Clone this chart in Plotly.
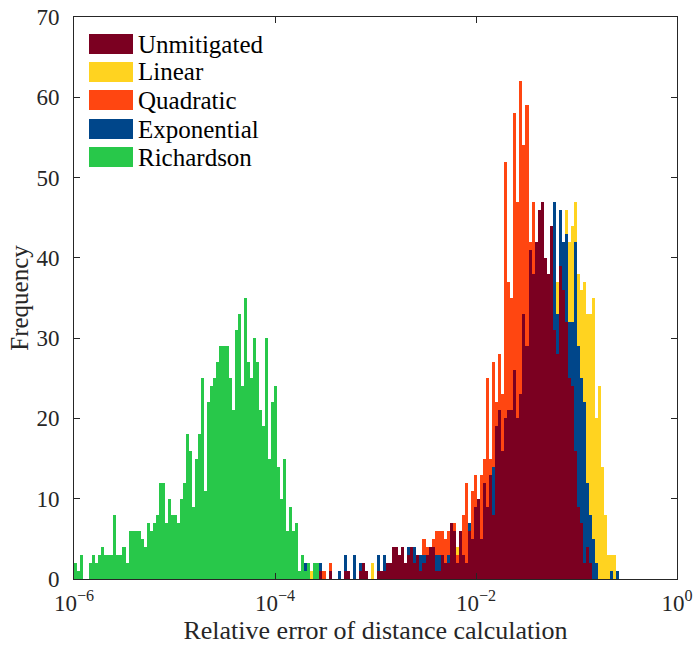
import numpy as np
import plotly.graph_objects as go

# ---------------- data (histogram counts on 199 log-spaced bins, 1e-6 .. 1) ----------------
n_bins = 199
log_min, log_max = -6, 0

richardson_start = 0
richardson_counts = [2, 1, 3, 0, 0, 2, 3, 2, 3, 4,
                     3, 3, 3, 8, 3, 3, 4, 2, 6, 6,
                     6, 6, 5, 4, 7, 6, 7, 8, 12, 12,
                     7, 10, 8, 8, 7, 10, 12, 18, 16, 9,
                     15, 18, 25, 11, 22, 24, 25, 27, 29, 29,
                     29, 25, 21, 31, 33, 24, 35, 27, 25, 30,
                     27, 21, 19, 30, 15, 22, 24, 14, 10, 15,
                     6, 9, 6, 7, 1, 3, 1, 2, 0, 2,
                     2]

unmitigated_start = 80
unmitigated_counts = [0, 1, 0, 0, 1, 0, 0, 0, 0, 1,
                      1, 0, 0, 0, 1, 2, 1, 0, 0, 0,
                      1, 1, 1, 2, 2, 4, 4, 3, 4, 2,
                      3, 4, 2, 3, 1, 2, 3, 4, 4, 1,
                      1, 3, 2, 2, 7, 6, 2, 6, 3, 2,
                      6, 5, 9, 10, 5, 12, 9, 13, 8, 19,
                      21, 16, 20, 21, 21, 26, 20, 23, 33, 29,
                      41, 38, 42, 46, 47, 40, 38, 44, 31, 28,
                      39, 36, 32, 25, 24, 16, 9, 7, 2, 4,
                      2]

exponential_start = 76
exponential_counts = [2, 0, 0, 0, 0, 2, 0, 0, 1, 0,
                      0, 1, 0, 3, 0, 0, 3, 0, 2, 0,
                      0, 0, 0, 0, 3, 0, 3, 0, 0, 0,
                      0, 0, 0, 0, 4, 0, 4, 3, 3, 3,
                      0, 0, 0, 3, 3, 0, 0, 3, 3, 4,
                      1, 4, 2, 1, 7, 3, 6, 7, 4, 9,
                      7, 10, 14, 14, 16, 13, 15, 17, 18, 20,
                      18, 20, 25, 26, 30, 32, 34, 38, 40, 37,
                      36, 40, 47, 33, 46, 42, 43, 32, 32, 42,
                      29, 25, 22, 12, 8, 5, 2, 0, 0, 0,
                      0, 1, 0, 1]

quadratic_start = 82
quadratic_counts = [1, 0, 2, 0, 0, 0, 0, 0, 1, 0,
                    0, 0, 0, 0, 1, 0, 0, 0, 0, 0,
                    0, 0, 0, 0, 0, 0, 0, 0, 3, 0,
                    0, 0, 0, 5, 4, 3, 5, 6, 6, 6,
                    5, 6, 7, 7, 3, 5, 8, 12, 5, 11,
                    13, 9, 13, 15, 25, 15, 27, 22, 28, 23,
                    52, 37, 35, 58, 47, 62, 54, 59, 42, 47,
                    30, 25, 20, 15, 10, 6, 3]

linear_start = 78
linear_counts = [1, 0, 0, 0, 0, 0, 0, 0, 0, 0,
                 0, 0, 0, 0, 0, 0, 0, 0, 0, 0,
                 2, 0, 0, 0, 0, 0, 0, 0, 0, 0,
                 0, 0, 0, 0, 0, 0, 0, 0, 0, 0,
                 0, 0, 0, 0, 0, 0, 0, 0, 4, 3,
                 4, 1, 5, 4, 6, 7, 5, 8, 9, 10,
                 12, 14, 15, 16, 18, 19, 20, 22, 20, 23,
                 25, 26, 28, 30, 32, 35, 36, 34, 35, 38,
                 45, 37, 40, 40, 46, 42, 44, 47, 38, 36,
                 37, 33, 33, 35, 20, 24, 14, 8, 3, 3,
                 3]

series_names = ["Unmitigated", "Linear", "Quadratic", "Exponential", "Richardson"]
series_colors = {"Unmitigated": "#7b0021", "Linear": "#ffd320", "Quadratic": "#ff4611",
                 "Exponential": "#00468a", "Richardson": "#28c84a"}
series_data = {"Unmitigated": (unmitigated_start, unmitigated_counts),
               "Linear": (linear_start, linear_counts),
               "Quadratic": (quadratic_start, quadratic_counts),
               "Exponential": (exponential_start, exponential_counts),
               "Richardson": (richardson_start, richardson_counts)}
draw_order = ["Linear", "Quadratic", "Exponential", "Unmitigated", "Richardson"]

x_tick_vals = [-6, -4, -2, 0]
x_tick_text = ["10<sup>\u22126</sup>", "10<sup>\u22124</sup>", "10<sup>\u22122</sup>", "10<sup>0</sup>"]
y_tick_vals = [0, 10, 20, 30, 40, 50, 60, 70]

# ---------------- figure ----------------
edges = np.linspace(log_min, log_max, n_bins + 1)
centers = (edges[:-1] + edges[1:]) / 2
bin_w = edges[1] - edges[0]


def full_counts(start, counts):
    arr = np.zeros(n_bins)
    arr[start:start + len(counts)] = counts
    return arr


FONT = "Liberation Serif"
TXT = "#262626"
W, H = 697, 648
L, R, T, B = 74, 20, 17, 69
pw, ph = W - L - R, H - T - B

fig = go.Figure()
for name in draw_order:
    start, counts = series_data[name]
    fig.add_trace(go.Bar(x=centers, y=full_counts(start, counts), width=bin_w, name=name,
                         marker=dict(color=series_colors[name], line=dict(width=0)),
                         showlegend=False))

axis_common = dict(showline=True, linecolor=TXT, linewidth=1, mirror="ticks",
                   ticks="inside", ticklen=6, tickcolor=TXT, showgrid=False,
                   zeroline=False, automargin=False,
                   tickfont=dict(family=FONT, size=23, color=TXT))

fig.update_layout(
    width=W, height=H,
    margin=dict(l=L, r=R, t=T, b=B, pad=0, autoexpand=False),
    paper_bgcolor="white", plot_bgcolor="white",
    barmode="overlay", bargap=0,
    xaxis=dict(range=[log_min, log_max], tickmode="array", tickvals=x_tick_vals,
               ticktext=x_tick_text, ticklabelstandoff=3,
               title=dict(text="Relative error of distance calculation",
                          font=dict(family=FONT, size=26, color=TXT), standoff=4),
               **axis_common),
    yaxis=dict(range=[0, 70], tickmode="array", tickvals=y_tick_vals, ticklabelstandoff=9,
               title=dict(text="Frequency", font=dict(family=FONT, size=25, color=TXT),
                          standoff=0),
               **axis_common),
)


def px_to_paper(px, py):
    return (px - L) / pw, (H - B - py) / ph


# manual legend (MATLAB-style wide swatches)
row_y = [44, 72, 100, 129, 157]
for name, yc in zip(series_names, row_y):
    x0, y0 = px_to_paper(89, yc + 10)
    x1, y1 = px_to_paper(133, yc - 10)
    fig.add_shape(type="rect", xref="paper", yref="paper", x0=x0, x1=x1, y0=y0, y1=y1,
                  fillcolor=series_colors[name], line=dict(width=0), layer="above")
    tx, ty = px_to_paper(136, yc)
    fig.add_annotation(xref="paper", yref="paper", x=tx, y=ty, text=name, showarrow=False,
                       xanchor="left", yanchor="middle",
                       font=dict(family=FONT, size=25, color="black"))

fig.write_html("out.html")
